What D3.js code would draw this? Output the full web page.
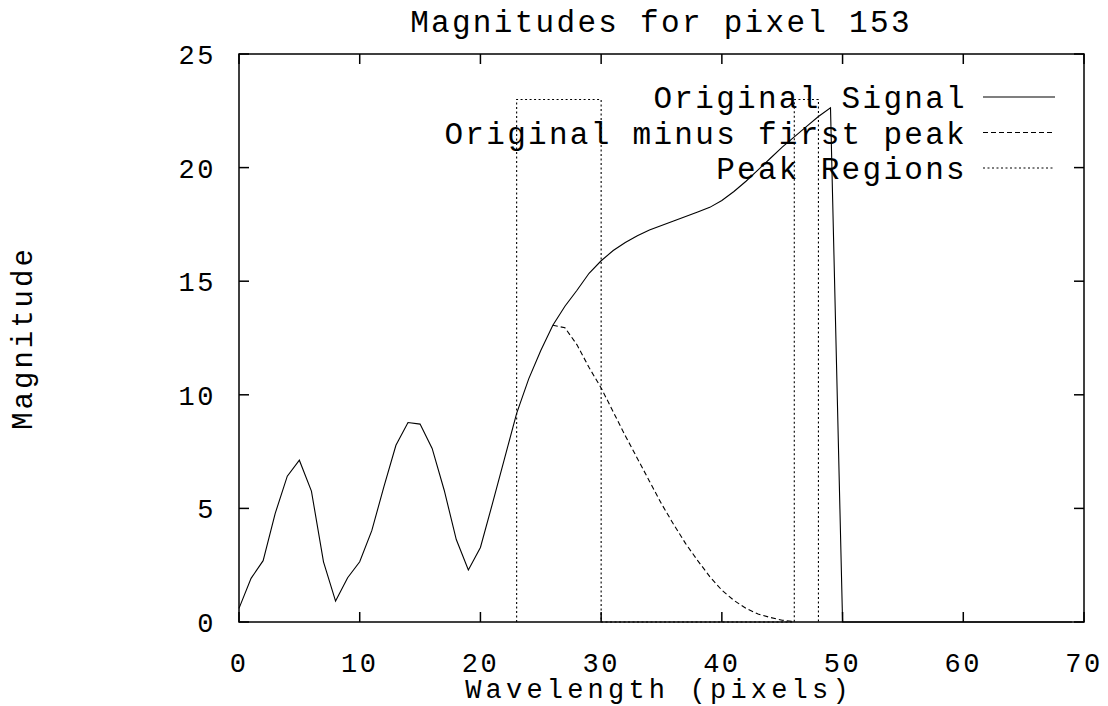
<!DOCTYPE html>
<html lang="en">
<head>
<meta charset="UTF-8">
<title>Magnitudes for pixel 153</title>
<script src="https://cdn.jsdelivr.net/npm/d3@7/dist/d3.min.js"></script>
<style>
  body { margin: 0; background: #fff; }
  text { font-family: "Liberation Mono", "Courier New", monospace; fill: #000; }
</style>
</head>
<body>
<svg id="main" width="1108" height="706"></svg>
<script>
// values, index = wavelength pixel
const originalSignal = [
  0.6, 1.92, 2.7, 4.78, 6.42, 7.12, 5.76, 2.65, 0.92, 1.95,
  2.65, 4.02, 5.95, 7.78, 8.78, 8.71, 7.64, 5.8, 3.63, 2.29,
  3.28, 5.22, 7.2, 9.18, 10.7, 11.95, 13.06, 13.9, 14.6, 15.35,
  15.9, 16.35, 16.7, 17.0, 17.25, 17.45, 17.65, 17.85, 18.05, 18.25,
  18.55, 18.95, 19.4, 19.9, 20.4, 20.9, 21.35, 21.8, 22.25, 22.63,
  0, 0, 0, 0, 0, 0, 0, 0, 0, 0,
  0, 0, 0, 0, 0, 0, 0, 0, 0, 0
];
const minusStart = 26;
const minusFirstPeak = [
  13.06, 12.95, 12.2, 11.2, 10.3, 9.25, 8.2, 7.2, 6.2, 5.2,
  4.3, 3.45, 2.7, 2.0, 1.4, 0.95, 0.6, 0.35, 0.2, 0.08, 0.02
];
const peakRegions = [[23, 30], [46, 48]];
const peakHeight = 23;
const xTicks = [0, 10, 20, 30, 40, 50, 60, 70];
const yTicks = [0, 5, 10, 15, 20, 25];
const legendNames = ["Original Signal", "Original minus first peak", "Peak Regions"];

const svg = d3.select("#main");
const pLeft = 239, pRight = 1084, pTop = 54, pBottom = 622;
const x = d3.scaleLinear().domain([0, 70]).range([pLeft, pRight]);
const y = d3.scaleLinear().domain([0, 25]).range([pBottom, pTop]);
const dashes = [null, "5,3", "2,2.5"];

// frame
svg.append("rect")
    .attr("x", pLeft).attr("y", pTop)
    .attr("width", pRight - pLeft).attr("height", pBottom - pTop)
    .attr("fill", "none").attr("stroke", "#000").attr("stroke-width", 1.5);

// inward ticks on all four sides
const tl = 10;
xTicks.forEach(t => {
    svg.append("line").attr("x1", x(t)).attr("x2", x(t)).attr("y1", pBottom).attr("y2", pBottom - tl)
        .attr("stroke", "#000").attr("stroke-width", 1.5);
    svg.append("line").attr("x1", x(t)).attr("x2", x(t)).attr("y1", pTop).attr("y2", pTop + tl)
        .attr("stroke", "#000").attr("stroke-width", 1.5);
    svg.append("text").attr("x", x(t)).attr("y", 672)
        .attr("text-anchor", "middle").attr("font-size", 27).attr("letter-spacing", 2.5)
        .text(t);
});
yTicks.forEach(t => {
    svg.append("line").attr("x1", pLeft).attr("x2", pLeft + tl).attr("y1", y(t)).attr("y2", y(t))
        .attr("stroke", "#000").attr("stroke-width", 1.5);
    svg.append("line").attr("x1", pRight).attr("x2", pRight - tl).attr("y1", y(t)).attr("y2", y(t))
        .attr("stroke", "#000").attr("stroke-width", 1.5);
    svg.append("text").attr("x", 216).attr("y", y(t) + 10)
        .attr("text-anchor", "end").attr("font-size", 27).attr("letter-spacing", 2.5)
        .text(t);
});

// titles
svg.append("text").attr("x", 661).attr("y", 32)
    .attr("text-anchor", "middle").attr("font-size", 31).attr("letter-spacing", 2.3)
    .text("Magnitudes for pixel 153");
svg.append("text").attr("x", 659).attr("y", 698)
    .attr("text-anchor", "middle").attr("font-size", 27).attr("letter-spacing", 4.2)
    .text("Wavelength (pixels)");
svg.append("text").attr("transform", "translate(32,338) rotate(-90)")
    .attr("text-anchor", "middle").attr("font-size", 29).attr("letter-spacing", 3)
    .text("Magnitude");

// curves
const line = d3.line().x(d => x(d[0])).y(d => y(d[1]));
const sig = originalSignal.map((v, i) => [i, v]);
const minus = minusFirstPeak.map((v, i) => [minusStart + i, v]);
const regions = [];
peakRegions.forEach(r => {
    regions.push([r[0], 0], [r[0], peakHeight], [r[1], peakHeight], [r[1], 0]);
});

[sig, minus, regions].forEach((pts, k) => {
    svg.append("path")
        .attr("d", line(pts))
        .attr("fill", "none").attr("stroke", "#000").attr("stroke-width", 1.1)
        .attr("stroke-dasharray", dashes[k]);
});

// legend
legendNames.forEach((name, k) => {
    const ly = 97 + k * 35.5;
    svg.append("text").attr("x", 967).attr("y", ly + 11)
        .attr("text-anchor", "end").attr("font-size", 31).attr("letter-spacing", 2.3)
        .text(name);
    svg.append("line").attr("x1", 983).attr("x2", 1055).attr("y1", ly).attr("y2", ly)
        .attr("stroke", "#000").attr("stroke-width", 1.1)
        .attr("stroke-dasharray", dashes[k]);
});
</script>
</body>
</html>
